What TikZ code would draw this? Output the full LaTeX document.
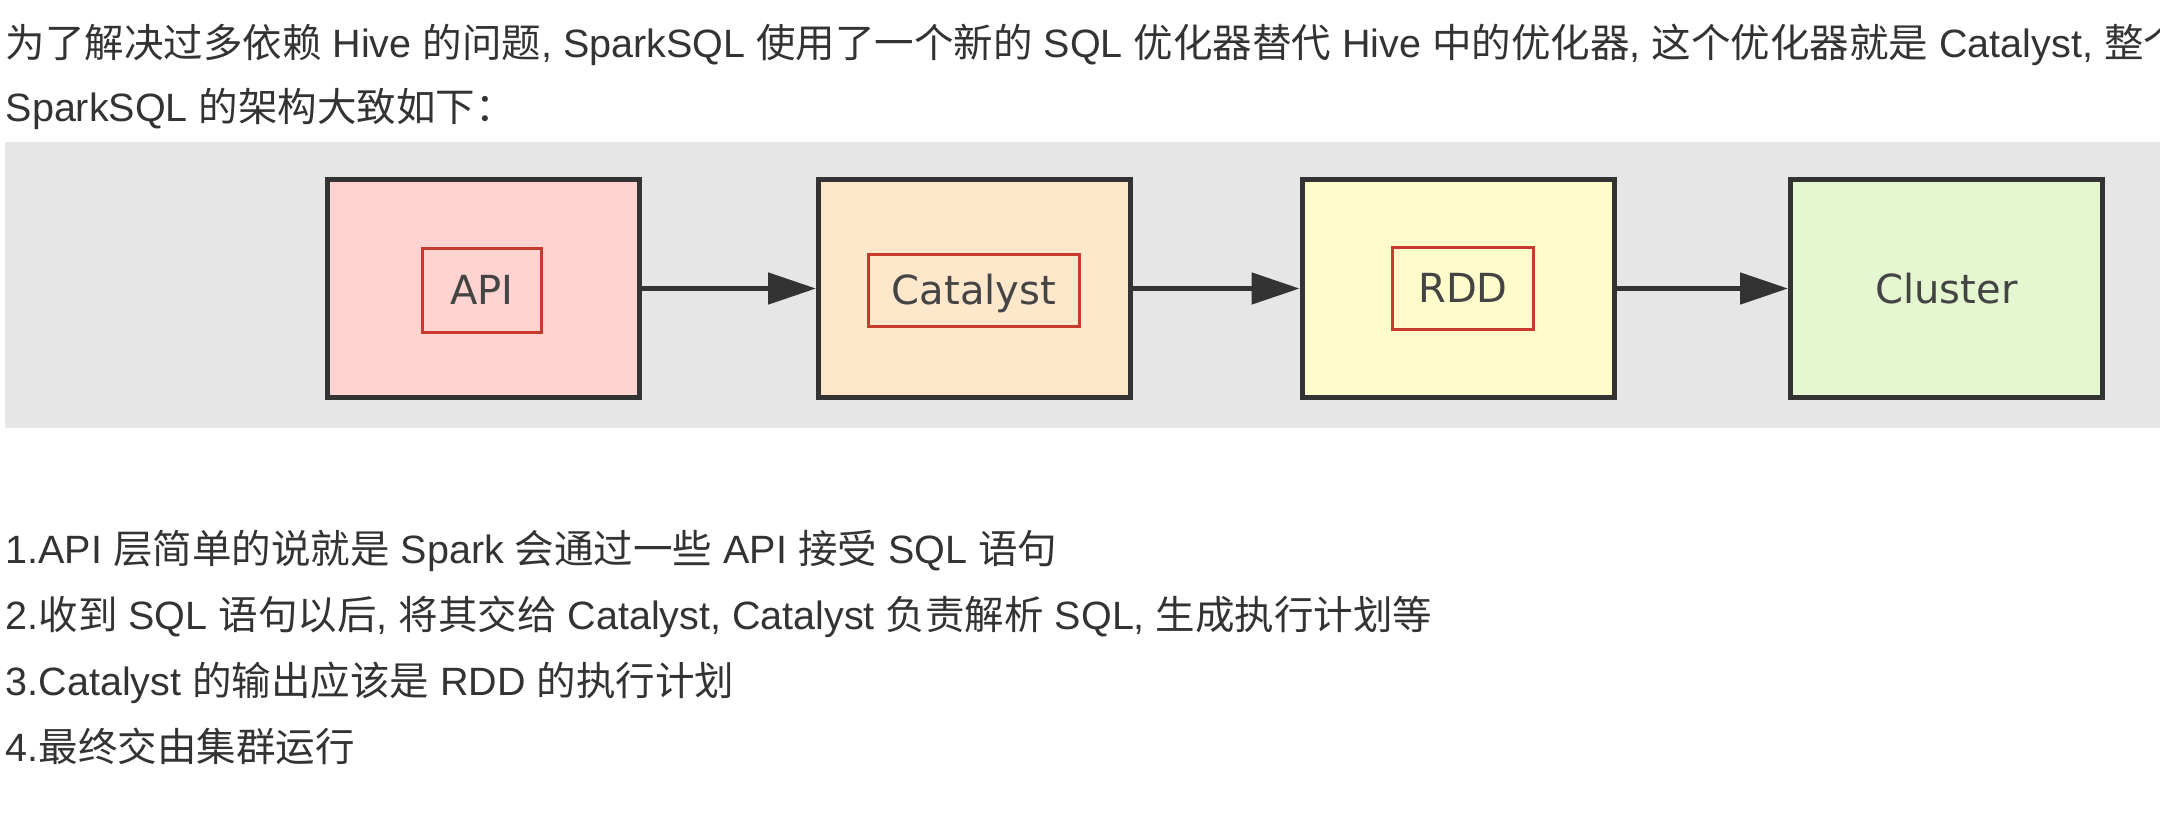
\documentclass[tikz,border=0pt]{standalone}
\usepackage{fontspec}
\setmainfont{Liberation Sans}
\newfontfamily\cjk{Noto Sans CJK SC}
\newfontfamily\boxfont{DejaVu Sans}
\usepackage{xcolor}
\usetikzlibrary{arrows.meta,positioning}
\definecolor{bandgray}{HTML}{E6E6E6}
\definecolor{boxline}{HTML}{333333}
\definecolor{tagred}{HTML}{C8392E}
\definecolor{labelgray}{HTML}{444444}
\definecolor{textgray}{HTML}{333333}
\definecolor{apifill}{HTML}{FFD3D0}
\definecolor{catfill}{HTML}{FFE7CC}
\definecolor{rddfill}{HTML}{FFFCCC}
\definecolor{clufill}{HTML}{E4F7D0}
\newcommand{\zh}[1]{{\cjk #1}}
\begin{document}
\begin{tikzpicture}[
  x=0.1mm, y=-0.1mm,
  font=\fontsize{11.24pt}{13pt}\selectfont,
  layer/.style={draw=boxline, line width=0.5mm, minimum width=31.2mm, minimum height=21.8mm, inner sep=0pt,
    text=labelgray, font=\boxfont\fontsize{11.4pt}{12pt}\selectfont, text height=2.9mm, text depth=0pt},
  tag/.style={draw=tagred, line width=0.3mm, inner sep=0pt, text=labelgray,
    font=\boxfont\fontsize{11.4pt}{12pt}\selectfont, text height=2.9mm, text depth=0pt},
  arr/.style={-{Triangle[length=4.8mm, width=3.1mm]}, line width=0.5mm, draw=boxline},
  para/.style={anchor=base west, inner sep=0pt, text=textgray}
]
\clip (0,0) rectangle (2160,813);
% ---------------- intro text
\node[para] (intro1) at (5,57) {\zh{为了解决过多依赖} Hive \zh{的问题}, SparkSQL \zh{使用了一个新的} SQL \zh{优化器替代} Hive \zh{中的优化器}, \zh{这个优化器就是} Catalyst, \zh{整个}};
\node[para] (intro2) at (5,121) {SparkSQL \zh{的架构大致如下：}};
% ---------------- architecture band
\fill[bandgray] (5,142) rectangle (2160,428);
\node[layer, fill=apifill] (api) at (483.5,288.5) {};
\node[layer, fill=catfill] (catalyst) at (974.5,288.5) {};
\node[layer, fill=rddfill] (rdd) at (1458,288.5) {};
\node[layer, fill=clufill] (cluster) at (1946.5,288.5) {Cluster};
\node[tag, minimum width=11.9mm, minimum height=8.4mm] (apitag) at (482,290) {API};
\node[tag, minimum width=21.1mm, minimum height=7.2mm] (cattag) at (974,290) {Catalyst};
\node[tag, minimum width=14.1mm, minimum height=8.2mm] (rddtag) at (1463,288) {RDD};
% ---------------- arrows
\draw[arr] (api) -- (catalyst);
\draw[arr] (catalyst) -- (rdd);
\draw[arr] (rdd) -- (cluster);
% ---------------- notes
\node[para] (note1) at (5,563) {1.API \zh{层简单的说就是} Spark \zh{会通过一些} API \zh{接受} SQL \zh{语句}};
\node[para] (note2) at (5,629) {2.\zh{收到} SQL \zh{语句以后}, \zh{将其交给} Catalyst, Catalyst \zh{负责解析} SQL, \zh{生成执行计划等}};
\node[para] (note3) at (5,695) {3.Catalyst \zh{的输出应该是} RDD \zh{的执行计划}};
\node[para] (note4) at (5,761) {4.\zh{最终交由集群运行}};
\end{tikzpicture}
\end{document}
